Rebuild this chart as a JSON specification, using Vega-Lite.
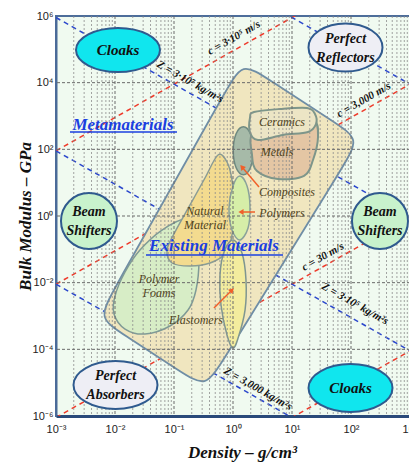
{
  "$schema": "https://vega.github.io/schema/vega-lite/v6.json",
  "width": 354,
  "height": 400,
  "autosize": {"type": "none"},
  "padding": {"left": 56, "top": 16, "right": 0, "bottom": 50},
  "background": "#ffffff",
  "view": {"fill": "#f0faf0", "stroke": "#4d6d9a", "strokeWidth": 2},
  "datasets": {
    "guides": [
      {"family": "c", "line": "c1", "i": 0, "density": 0.001, "modulus": 90},
      {"family": "c", "line": "c1", "i": 1, "density": 1000, "modulus": 90000000},
      {"family": "c", "line": "c2", "i": 0, "density": 0.001, "modulus": 0.009},
      {"family": "c", "line": "c2", "i": 1, "density": 1000, "modulus": 9000},
      {"family": "c", "line": "c3", "i": 0, "density": 0.001, "modulus": 9e-7},
      {"family": "c", "line": "c3", "i": 1, "density": 1000, "modulus": 0.9},
      {"family": "c", "line": "c4", "i": 0, "density": 0.001, "modulus": 9e-11},
      {"family": "c", "line": "c4", "i": 1, "density": 1000, "modulus": 9e-5},
      {"family": "Z", "line": "Z1", "i": 0, "density": 0.001, "modulus": 9e9},
      {"family": "Z", "line": "Z1", "i": 1, "density": 1000, "modulus": 9000},
      {"family": "Z", "line": "Z2", "i": 0, "density": 0.001, "modulus": 900000},
      {"family": "Z", "line": "Z2", "i": 1, "density": 1000, "modulus": 0.9},
      {"family": "Z", "line": "Z3", "i": 0, "density": 0.001, "modulus": 90},
      {"family": "Z", "line": "Z3", "i": 1, "density": 1000, "modulus": 9e-5},
      {"family": "Z", "line": "Z4", "i": 0, "density": 0.001, "modulus": 0.009},
      {"family": "Z", "line": "Z4", "i": 1, "density": 1000, "modulus": 9e-9}
    ],
    "regions": [
      {"shape": "Existing", "i": 0, "density": 0.8, "modulus": 6820},
      {"shape": "Existing", "i": 1, "density": 1.42, "modulus": 41700},
      {"shape": "Existing", "i": 2, "density": 3.78, "modulus": 13400},
      {"shape": "Existing", "i": 3, "density": 53.4, "modulus": 634},
      {"shape": "Existing", "i": 4, "density": 142, "modulus": 204},
      {"shape": "Existing", "i": 5, "density": 76.7, "modulus": 35.1},
      {"shape": "Existing", "i": 6, "density": 0.646, "modulus": 4.03e-5},
      {"shape": "Existing", "i": 7, "density": 0.349, "modulus": 6.92e-6},
      {"shape": "Existing", "i": 8, "density": 0.13, "modulus": 2.13e-5},
      {"shape": "Existing", "i": 9, "density": 0.0138, "modulus": 2.83e-4},
      {"shape": "Existing", "i": 10, "density": 0.00515, "modulus": 8.71e-4},
      {"shape": "Existing", "i": 11, "density": 0.00914, "modulus": 0.00532},

      {"shape": "Foams", "i": 0, "density": 0.16, "modulus": 0.813},
      {"shape": "Foams", "i": 1, "density": 0.236, "modulus": 0.331},
      {"shape": "Foams", "i": 2, "density": 0.265, "modulus": 0.0479},
      {"shape": "Foams", "i": 3, "density": 0.236, "modulus": 0.00603},
      {"shape": "Foams", "i": 4, "density": 0.173, "modulus": 0.00151},
      {"shape": "Foams", "i": 5, "density": 0.0856, "modulus": 5.01e-4},
      {"shape": "Foams", "i": 6, "density": 0.0323, "modulus": 2.88e-4},
      {"shape": "Foams", "i": 7, "density": 0.0148, "modulus": 4.07e-4},
      {"shape": "Foams", "i": 8, "density": 0.00962, "modulus": 0.00115},
      {"shape": "Foams", "i": 9, "density": 0.01, "modulus": 0.00398},
      {"shape": "Foams", "i": 10, "density": 0.0148, "modulus": 0.0209},
      {"shape": "Foams", "i": 11, "density": 0.0265, "modulus": 0.0955},
      {"shape": "Foams", "i": 12, "density": 0.0626, "modulus": 0.38},

      {"shape": "Natural", "i": 0, "density": 0.557, "modulus": 67.6},
      {"shape": "Natural", "i": 1, "density": 0.791, "modulus": 41.7},
      {"shape": "Natural", "i": 2, "density": 0.962, "modulus": 12.0},
      {"shape": "Natural", "i": 3, "density": 1.04, "modulus": 1.86},
      {"shape": "Natural", "i": 4, "density": 0.962, "modulus": 0.269},
      {"shape": "Natural", "i": 5, "density": 0.761, "modulus": 0.0776},
      {"shape": "Natural", "i": 6, "density": 0.408, "modulus": 0.0389},
      {"shape": "Natural", "i": 7, "density": 0.187, "modulus": 0.0316},
      {"shape": "Natural", "i": 8, "density": 0.0925, "modulus": 0.0389},
      {"shape": "Natural", "i": 9, "density": 0.0761, "modulus": 0.0955},
      {"shape": "Natural", "i": 10, "density": 0.104, "modulus": 0.331},
      {"shape": "Natural", "i": 11, "density": 0.187, "modulus": 2.14},
      {"shape": "Natural", "i": 12, "density": 0.335, "modulus": 13.8},

      {"shape": "Elastomers", "i": 0, "density": 1.0, "modulus": 0.191},
      {"shape": "Elastomers", "i": 1, "density": 1.42, "modulus": 0.0776},
      {"shape": "Elastomers", "i": 2, "density": 1.66, "modulus": 0.012},
      {"shape": "Elastomers", "i": 3, "density": 1.6, "modulus": 0.00151},
      {"shape": "Elastomers", "i": 4, "density": 1.22, "modulus": 2.19e-4},
      {"shape": "Elastomers", "i": 5, "density": 1.0, "modulus": 1.1e-4},
      {"shape": "Elastomers", "i": 6, "density": 0.791, "modulus": 2.69e-4},
      {"shape": "Elastomers", "i": 7, "density": 0.626, "modulus": 0.00214},
      {"shape": "Elastomers", "i": 8, "density": 0.602, "modulus": 0.017},
      {"shape": "Elastomers", "i": 9, "density": 0.704, "modulus": 0.0832},

      {"shape": "Polymers", "i": 0, "density": 1.31, "modulus": 15.8},
      {"shape": "Polymers", "i": 1, "density": 1.73, "modulus": 7.94},
      {"shape": "Polymers", "i": 2, "density": 1.94, "modulus": 2.0},
      {"shape": "Polymers", "i": 3, "density": 1.8, "modulus": 0.437},
      {"shape": "Polymers", "i": 4, "density": 1.31, "modulus": 0.191},
      {"shape": "Polymers", "i": 5, "density": 0.962, "modulus": 0.38},
      {"shape": "Polymers", "i": 6, "density": 0.855, "modulus": 1.74},
      {"shape": "Polymers", "i": 7, "density": 1.0, "modulus": 7.94},

      {"shape": "Composites", "i": 0, "density": 1.5, "modulus": 474},
      {"shape": "Composites", "i": 1, "density": 1.97, "modulus": 292},
      {"shape": "Composites", "i": 2, "density": 2.21, "modulus": 90.4},
      {"shape": "Composites", "i": 3, "density": 1.97, "modulus": 27.9},
      {"shape": "Composites", "i": 4, "density": 1.5, "modulus": 17.2},
      {"shape": "Composites", "i": 5, "density": 1.13, "modulus": 27.9},
      {"shape": "Composites", "i": 6, "density": 1.01, "modulus": 90.4},
      {"shape": "Composites", "i": 7, "density": 1.13, "modulus": 292},

      {"shape": "Metals", "i": 0, "density": 2.27, "modulus": 331},
      {"shape": "Metals", "i": 1, "density": 9.25, "modulus": 501},
      {"shape": "Metals", "i": 2, "density": 23.6, "modulus": 708},
      {"shape": "Metals", "i": 3, "density": 27.6, "modulus": 234},
      {"shape": "Metals", "i": 4, "density": 22.7, "modulus": 47.9},
      {"shape": "Metals", "i": 5, "density": 16.0, "modulus": 15.9},
      {"shape": "Metals", "i": 6, "density": 5.79, "modulus": 12.9},
      {"shape": "Metals", "i": 7, "density": 2.55, "modulus": 22.4},
      {"shape": "Metals", "i": 8, "density": 2.1, "modulus": 67.6},

      {"shape": "Ceramics", "i": 0, "density": 2.27, "modulus": 1318},
      {"shape": "Ceramics", "i": 1, "density": 6.26, "modulus": 1622},
      {"shape": "Ceramics", "i": 2, "density": 18.0, "modulus": 1738},
      {"shape": "Ceramics", "i": 3, "density": 24.5, "modulus": 1148},
      {"shape": "Ceramics", "i": 4, "density": 25.5, "modulus": 575},
      {"shape": "Ceramics", "i": 5, "density": 18.7, "modulus": 331},
      {"shape": "Ceramics", "i": 6, "density": 7.04, "modulus": 269},
      {"shape": "Ceramics", "i": 7, "density": 2.65, "modulus": 190},
      {"shape": "Ceramics", "i": 8, "density": 1.94, "modulus": 331},
      {"shape": "Ceramics", "i": 9, "density": 1.94, "modulus": 871}
    ],
    "minorGrid": [
      {"density": 0.002}, {"density": 0.003}, {"density": 0.004}, {"density": 0.005}, {"density": 0.006}, {"density": 0.007}, {"density": 0.008}, {"density": 0.009},
      {"density": 0.02}, {"density": 0.03}, {"density": 0.04}, {"density": 0.05}, {"density": 0.06}, {"density": 0.07}, {"density": 0.08}, {"density": 0.09},
      {"density": 0.2}, {"density": 0.3}, {"density": 0.4}, {"density": 0.5}, {"density": 0.6}, {"density": 0.7}, {"density": 0.8}, {"density": 0.9},
      {"density": 2}, {"density": 3}, {"density": 4}, {"density": 5}, {"density": 6}, {"density": 7}, {"density": 8}, {"density": 9},
      {"density": 20}, {"density": 30}, {"density": 40}, {"density": 50}, {"density": 60}, {"density": 70}, {"density": 80}, {"density": 90},
      {"density": 200}, {"density": 300}, {"density": 400}, {"density": 500}, {"density": 600}, {"density": 700}, {"density": 800}, {"density": 900}
    ],
    "majorGrid": [
      {"density": 0.01}, {"density": 0.1}, {"density": 1}, {"density": 10}, {"density": 100}
    ],
    "rowGrid": [
      {"modulus": 0.0001}, {"modulus": 0.01}, {"modulus": 1}, {"modulus": 100}, {"modulus": 10000}
    ],
    "arrows": [
      {"arrow": "composites", "i": 0, "density": 2.76, "modulus": 7.41},
      {"arrow": "composites", "i": 1, "density": 1.42, "modulus": 29.5},
      {"arrow": "polymers", "i": 0, "density": 2.36, "modulus": 1.318},
      {"arrow": "polymers", "i": 1, "density": 1.366, "modulus": 1.318},
      {"arrow": "elastomers", "i": 0, "density": 0.476, "modulus": 0.001738},
      {"arrow": "elastomers", "i": 1, "density": 0.962, "modulus": 0.006026}
    ],
    "badges": [
      {"name": "cloaks-a", "label": "Cloaks", "density": 0.01124, "modulus": 95500},
      {"name": "reflectors", "label": "Perfect\nReflectors", "density": 80.7, "modulus": 113500},
      {"name": "shifters", "label": "Beam\nShifters", "density": 0.003624, "modulus": 0.708},
      {"name": "shifters", "label": "Beam\nShifters", "density": 310, "modulus": 0.708},
      {"name": "absorbers", "label": "Perfect\nAbsorbers", "density": 0.0102, "modulus": 8.51e-6},
      {"name": "cloaks-b", "label": "Cloaks", "density": 98.1, "modulus": 6.92e-6}
    ],
    "tags": [
      {"name": "ceramics", "label": "Ceramics", "density": 6.77, "modulus": 661},
      {"name": "metals", "label": "Metals", "density": 5.57, "modulus": 83.2},
      {"name": "composites", "label": "Composites", "density": 8.23, "modulus": 5.25},
      {"name": "polymers", "label": "Polymers", "density": 6.77, "modulus": 1.23},
      {"name": "natural", "label": "Natural\nMaterial", "density": 0.335, "modulus": 0.871},
      {"name": "foams", "label": "Polymer\nFoams", "density": 0.0557, "modulus": 0.00794},
      {"name": "elastomers", "label": "Elastomers", "density": 0.236, "modulus": 0.000759}
    ],
    "guideTags": [
      {"family": "c", "label": "c = 3·10⁵ m/s", "density": 1.04, "modulus": 218800},
      {"family": "c", "label": "c = 3,000 m/s", "density": 166, "modulus": 3020},
      {"family": "c", "label": "c = 30 m/s", "density": 33.5, "modulus": 0.0589},
      {"family": "Z", "label": "Z = 3·10⁷ kg/m²s", "density": 0.187, "modulus": 10470},
      {"family": "Z", "label": "Z = 3·10⁵ kg/m²s", "density": 117, "modulus": 0.00229},
      {"family": "Z", "label": "Z = 3,000 kg/m²s", "density": 2.65, "modulus": 6.46e-6}
    ],
    "headings": [
      {"label": "Metamaterials", "density": 0.01366, "modulus": 537, "density2": 0.001727, "density3": 0.1124, "under": 331},
      {"label": "Existing Materials", "density": 0.4764, "modulus": 0.1259, "density2": 0.0335, "density3": 7.04, "under": 0.0676}
    ]
  },
  "layer": [
    {
      "data": {"name": "guides"},
      "mark": {"type": "line", "clip": true, "strokeWidth": 1.5, "strokeDash": [5, 4]},
      "encoding": {
        "x": {
          "field": "density", "type": "quantitative",
          "scale": {"type": "log", "domain": [0.001, 1000], "nice": false},
          "axis": {
            "values": [0.001, 0.01, 0.1, 1, 10, 100, 1000],
            "labelExpr": "'10' + (datum.value < 1 ? '⁻' : '') + ['⁰','¹','²','³','⁴','⁵','⁶'][abs(round(log(datum.value) / LN10))]",
            "grid": false, "ticks": false,
            "domainColor": "#2a4a7a", "domainWidth": 3,
            "labelFont": "Liberation Sans", "labelFontSize": 11, "labelColor": "#222222",
            "labelPadding": 7, "labelFlush": false, "labelOverlap": false, "labelBound": false,
            "title": "Density – g/cm³",
            "titleFont": "Liberation Serif", "titleFontSize": 17, "titleFontStyle": "italic", "titleFontWeight": "bold",
            "titleColor": "#111111", "titleX": 186, "titleY": 36, "titleAlign": "center", "titleBaseline": "middle"
          }
        },
        "y": {
          "field": "modulus", "type": "quantitative",
          "scale": {"type": "log", "domain": [1e-6, 1000000], "nice": false},
          "axis": {
            "values": [1e-6, 0.0001, 0.01, 1, 100, 10000, 1000000],
            "labelExpr": "'10' + (datum.value < 1 ? '⁻' : '') + ['⁰','¹','²','³','⁴','⁵','⁶'][abs(round(log(datum.value) / LN10))]",
            "grid": false, "ticks": false,
            "domainColor": "#4a6a98", "domainWidth": 2,
            "labelFont": "Liberation Sans", "labelFontSize": 11, "labelColor": "#222222",
            "labelPadding": 3, "labelFlush": false, "labelOverlap": false, "labelBound": false,
            "title": "Bulk Modulus – GPa",
            "titleFont": "Liberation Serif", "titleFontSize": 17, "titleFontStyle": "italic", "titleFontWeight": "bold",
            "titleColor": "#111111", "titleX": -31, "titleY": 200, "titleAngle": 270, "titleAlign": "center", "titleBaseline": "middle"
          }
        },
        "detail": {"field": "line"},
        "order": {"field": "i"},
        "color": {"field": "family", "type": "nominal", "scale": {"domain": ["c", "Z"], "range": ["#ee3b2b", "#2b47cc"]}, "legend": null}
      }
    },
    {
      "data": {"name": "regions"},
      "transform": [{"filter": "datum.shape == 'Existing'"}],
      "mark": {"type": "line", "interpolate": "basis-closed", "fill": "#f0e6bf", "stroke": "#6f8ea6", "strokeWidth": 1.8},
      "encoding": {
        "x": {"field": "density", "type": "quantitative", "scale": {"type": "log", "domain": [0.001, 1000], "nice": false}},
        "y": {"field": "modulus", "type": "quantitative", "scale": {"type": "log", "domain": [1e-6, 1000000], "nice": false}},
        "order": {"field": "i"}
      }
    },
    {
      "data": {"name": "regions"},
      "transform": [{"filter": "datum.shape == 'Foams'"}],
      "mark": {"type": "line", "interpolate": "cardinal-closed", "fill": "#d7edc6", "stroke": "#7f9b96", "strokeWidth": 1.5},
      "encoding": {
        "x": {"field": "density", "type": "quantitative", "scale": {"type": "log", "domain": [0.001, 1000], "nice": false}},
        "y": {"field": "modulus", "type": "quantitative", "scale": {"type": "log", "domain": [1e-6, 1000000], "nice": false}},
        "order": {"field": "i"}
      }
    },
    {
      "data": {"name": "regions"},
      "transform": [{"filter": "datum.shape == 'Natural'"}],
      "mark": {"type": "line", "interpolate": "cardinal-closed", "fill": "#f3db8f", "stroke": "#8a9c94", "strokeWidth": 1.5},
      "encoding": {
        "x": {"field": "density", "type": "quantitative", "scale": {"type": "log", "domain": [0.001, 1000], "nice": false}},
        "y": {"field": "modulus", "type": "quantitative", "scale": {"type": "log", "domain": [1e-6, 1000000], "nice": false}},
        "order": {"field": "i"}
      }
    },
    {
      "data": {"name": "regions"},
      "transform": [{"filter": "datum.shape == 'Elastomers'"}],
      "mark": {"type": "line", "interpolate": "cardinal-closed", "fill": "#f3ec9e", "stroke": "#7f9690", "strokeWidth": 1.5},
      "encoding": {
        "x": {"field": "density", "type": "quantitative", "scale": {"type": "log", "domain": [0.001, 1000], "nice": false}},
        "y": {"field": "modulus", "type": "quantitative", "scale": {"type": "log", "domain": [1e-6, 1000000], "nice": false}},
        "order": {"field": "i"}
      }
    },
    {
      "data": {"name": "regions"},
      "transform": [{"filter": "datum.shape == 'Polymers'"}],
      "mark": {"type": "line", "interpolate": "cardinal-closed", "fill": "#d6eea8", "stroke": "#8aa29a", "strokeWidth": 1.5},
      "encoding": {
        "x": {"field": "density", "type": "quantitative", "scale": {"type": "log", "domain": [0.001, 1000], "nice": false}},
        "y": {"field": "modulus", "type": "quantitative", "scale": {"type": "log", "domain": [1e-6, 1000000], "nice": false}},
        "order": {"field": "i"}
      }
    },
    {
      "data": {"name": "regions"},
      "transform": [{"filter": "datum.shape == 'Composites'"}],
      "mark": {"type": "line", "interpolate": "cardinal-closed", "fill": "#a6baa8", "stroke": "#6f8a80", "strokeWidth": 1.5},
      "encoding": {
        "x": {"field": "density", "type": "quantitative", "scale": {"type": "log", "domain": [0.001, 1000], "nice": false}},
        "y": {"field": "modulus", "type": "quantitative", "scale": {"type": "log", "domain": [1e-6, 1000000], "nice": false}},
        "order": {"field": "i"}
      }
    },
    {
      "data": {"name": "regions"},
      "transform": [{"filter": "datum.shape == 'Metals'"}],
      "mark": {"type": "line", "interpolate": "cardinal-closed", "fill": "#e4c6a4", "stroke": "#7e968a", "strokeWidth": 2},
      "encoding": {
        "x": {"field": "density", "type": "quantitative", "scale": {"type": "log", "domain": [0.001, 1000], "nice": false}},
        "y": {"field": "modulus", "type": "quantitative", "scale": {"type": "log", "domain": [1e-6, 1000000], "nice": false}},
        "order": {"field": "i"}
      }
    },
    {
      "data": {"name": "regions"},
      "transform": [{"filter": "datum.shape == 'Ceramics'"}],
      "mark": {"type": "line", "interpolate": "cardinal-closed", "fill": "#ece5c5", "stroke": "#7e968a", "strokeWidth": 2},
      "encoding": {
        "x": {"field": "density", "type": "quantitative", "scale": {"type": "log", "domain": [0.001, 1000], "nice": false}},
        "y": {"field": "modulus", "type": "quantitative", "scale": {"type": "log", "domain": [1e-6, 1000000], "nice": false}},
        "order": {"field": "i"}
      }
    },
    {
      "data": {"name": "minorGrid"},
      "mark": {"type": "rule", "color": "#8c8c8c", "strokeWidth": 0.8, "strokeDash": [2, 2]},
      "encoding": {
        "x": {"field": "density", "type": "quantitative", "scale": {"type": "log", "domain": [0.001, 1000], "nice": false}}
      }
    },
    {
      "data": {"name": "majorGrid"},
      "mark": {"type": "rule", "color": "#6a6a6a", "strokeWidth": 1, "strokeDash": [3, 2]},
      "encoding": {
        "x": {"field": "density", "type": "quantitative", "scale": {"type": "log", "domain": [0.001, 1000], "nice": false}}
      }
    },
    {
      "data": {"name": "rowGrid"},
      "mark": {"type": "rule", "color": "#6a6a6a", "strokeWidth": 1, "strokeDash": [3, 2]},
      "encoding": {
        "y": {"field": "modulus", "type": "quantitative", "scale": {"type": "log", "domain": [1e-6, 1000000], "nice": false}}
      }
    },
    {
      "data": {"name": "arrows"},
      "mark": {"type": "line", "color": "#f0602a", "strokeWidth": 1.5},
      "encoding": {
        "x": {"field": "density", "type": "quantitative", "scale": {"type": "log", "domain": [0.001, 1000], "nice": false}},
        "y": {"field": "modulus", "type": "quantitative", "scale": {"type": "log", "domain": [1e-6, 1000000], "nice": false}},
        "detail": {"field": "arrow"},
        "order": {"field": "i"}
      }
    },
    {
      "data": {"name": "arrows"},
      "transform": [{"filter": "datum.i == 1 && datum.arrow == 'composites'"}],
      "mark": {"type": "point", "shape": "triangle-up", "filled": true, "color": "#f0602a", "opacity": 1, "size": 36, "angle": 320},
      "encoding": {
        "x": {"field": "density", "type": "quantitative", "scale": {"type": "log", "domain": [0.001, 1000], "nice": false}},
        "y": {"field": "modulus", "type": "quantitative", "scale": {"type": "log", "domain": [1e-6, 1000000], "nice": false}}
      }
    },
    {
      "data": {"name": "arrows"},
      "transform": [{"filter": "datum.i == 1 && datum.arrow == 'polymers'"}],
      "mark": {"type": "point", "shape": "triangle-up", "filled": true, "color": "#f0602a", "opacity": 1, "size": 36, "angle": 270},
      "encoding": {
        "x": {"field": "density", "type": "quantitative", "scale": {"type": "log", "domain": [0.001, 1000], "nice": false}},
        "y": {"field": "modulus", "type": "quantitative", "scale": {"type": "log", "domain": [1e-6, 1000000], "nice": false}}
      }
    },
    {
      "data": {"name": "arrows"},
      "transform": [{"filter": "datum.i == 1 && datum.arrow == 'elastomers'"}],
      "mark": {"type": "point", "shape": "triangle-up", "filled": true, "color": "#f0602a", "opacity": 1, "size": 36, "angle": 45},
      "encoding": {
        "x": {"field": "density", "type": "quantitative", "scale": {"type": "log", "domain": [0.001, 1000], "nice": false}},
        "y": {"field": "modulus", "type": "quantitative", "scale": {"type": "log", "domain": [1e-6, 1000000], "nice": false}}
      }
    },
    {
      "data": {"name": "badges"},
      "transform": [{"filter": "datum.name == 'cloaks-a'"}],
      "mark": {"type": "point", "shape": "M 1 0 C 1 0.289 0.552 0.524 0 0.524 C -0.552 0.524 -1 0.289 -1 0 C -1 -0.289 -0.552 -0.524 0 -0.524 C 0.552 -0.524 1 -0.289 1 0 Z", "size": 7056, "filled": true, "fill": "#10e6ee", "stroke": "#2f5a8e", "strokeWidth": 2, "opacity": 1},
      "encoding": {
        "x": {"field": "density", "type": "quantitative", "scale": {"type": "log", "domain": [0.001, 1000], "nice": false}},
        "y": {"field": "modulus", "type": "quantitative", "scale": {"type": "log", "domain": [1e-6, 1000000], "nice": false}}
      }
    },
    {
      "data": {"name": "badges"},
      "transform": [{"filter": "datum.name == 'reflectors'"}],
      "mark": {"type": "point", "shape": "M 1 0 C 1 0.358 0.552 0.649 0 0.649 C -0.552 0.649 -1 0.358 -1 0 C -1 -0.358 -0.552 -0.649 0 -0.649 C 0.552 -0.649 1 -0.358 1 0 Z", "size": 5476, "filled": true, "fill": "#eeeef5", "stroke": "#2f5a8e", "strokeWidth": 2, "opacity": 1},
      "encoding": {
        "x": {"field": "density", "type": "quantitative", "scale": {"type": "log", "domain": [0.001, 1000], "nice": false}},
        "y": {"field": "modulus", "type": "quantitative", "scale": {"type": "log", "domain": [1e-6, 1000000], "nice": false}}
      }
    },
    {
      "data": {"name": "badges"},
      "transform": [{"filter": "datum.name == 'shifters'"}],
      "mark": {"type": "point", "shape": "circle", "size": 3136, "filled": true, "fill": "#c8f2cc", "stroke": "#2f5a8e", "strokeWidth": 2, "opacity": 1},
      "encoding": {
        "x": {"field": "density", "type": "quantitative", "scale": {"type": "log", "domain": [0.001, 1000], "nice": false}},
        "y": {"field": "modulus", "type": "quantitative", "scale": {"type": "log", "domain": [1e-6, 1000000], "nice": false}}
      }
    },
    {
      "data": {"name": "badges"},
      "transform": [{"filter": "datum.name == 'absorbers'"}],
      "mark": {"type": "point", "shape": "M 1 0 C 1 0.316 0.552 0.571 0 0.571 C -0.552 0.571 -1 0.316 -1 0 C -1 -0.316 -0.552 -0.571 0 -0.571 C 0.552 -0.571 1 -0.316 1 0 Z", "size": 7056, "filled": true, "fill": "#eeeef5", "stroke": "#2f5a8e", "strokeWidth": 2, "opacity": 1},
      "encoding": {
        "x": {"field": "density", "type": "quantitative", "scale": {"type": "log", "domain": [0.001, 1000], "nice": false}},
        "y": {"field": "modulus", "type": "quantitative", "scale": {"type": "log", "domain": [1e-6, 1000000], "nice": false}}
      }
    },
    {
      "data": {"name": "badges"},
      "transform": [{"filter": "datum.name == 'cloaks-b'"}],
      "mark": {"type": "point", "shape": "M 1 0 C 1 0.316 0.552 0.571 0 0.571 C -0.552 0.571 -1 0.316 -1 0 C -1 -0.316 -0.552 -0.571 0 -0.571 C 0.552 -0.571 1 -0.316 1 0 Z", "size": 7056, "filled": true, "fill": "#10e6ee", "stroke": "#2f5a8e", "strokeWidth": 2, "opacity": 1},
      "encoding": {
        "x": {"field": "density", "type": "quantitative", "scale": {"type": "log", "domain": [0.001, 1000], "nice": false}},
        "y": {"field": "modulus", "type": "quantitative", "scale": {"type": "log", "domain": [1e-6, 1000000], "nice": false}}
      }
    },
    {
      "data": {"name": "badges"},
      "transform": [{"filter": "datum.name == 'cloaks-a' || datum.name == 'cloaks-b'"}],
      "mark": {"type": "text", "font": "Liberation Serif", "fontSize": 15, "fontStyle": "italic", "fontWeight": "bold", "color": "#111111", "align": "center", "baseline": "middle"},
      "encoding": {
        "x": {"field": "density", "type": "quantitative", "scale": {"type": "log", "domain": [0.001, 1000], "nice": false}},
        "y": {"field": "modulus", "type": "quantitative", "scale": {"type": "log", "domain": [1e-6, 1000000], "nice": false}},
        "text": {"field": "label"}
      }
    },
    {
      "data": {"name": "badges"},
      "transform": [{"filter": "datum.name != 'cloaks-a' && datum.name != 'cloaks-b'"}],
      "mark": {"type": "text", "font": "Liberation Serif", "fontSize": 14, "fontStyle": "italic", "fontWeight": "bold", "color": "#111111", "align": "center", "baseline": "middle", "lineBreak": "\n", "lineHeight": 19, "dy": -9},
      "encoding": {
        "x": {"field": "density", "type": "quantitative", "scale": {"type": "log", "domain": [0.001, 1000], "nice": false}},
        "y": {"field": "modulus", "type": "quantitative", "scale": {"type": "log", "domain": [1e-6, 1000000], "nice": false}},
        "text": {"field": "label"}
      }
    },
    {
      "data": {"name": "tags"},
      "transform": [{"filter": "datum.name != 'natural' && datum.name != 'foams'"}],
      "mark": {"type": "text", "font": "Liberation Serif", "fontSize": 12, "fontStyle": "italic", "color": "#4f4320", "align": "center", "baseline": "middle"},
      "encoding": {
        "x": {"field": "density", "type": "quantitative", "scale": {"type": "log", "domain": [0.001, 1000], "nice": false}},
        "y": {"field": "modulus", "type": "quantitative", "scale": {"type": "log", "domain": [1e-6, 1000000], "nice": false}},
        "text": {"field": "label"}
      }
    },
    {
      "data": {"name": "tags"},
      "transform": [{"filter": "datum.name == 'natural' || datum.name == 'foams'"}],
      "mark": {"type": "text", "font": "Liberation Serif", "fontSize": 12, "fontStyle": "italic", "color": "#4f4320", "align": "center", "baseline": "middle", "lineBreak": "\n", "lineHeight": 14, "dy": -7},
      "encoding": {
        "x": {"field": "density", "type": "quantitative", "scale": {"type": "log", "domain": [0.001, 1000], "nice": false}},
        "y": {"field": "modulus", "type": "quantitative", "scale": {"type": "log", "domain": [1e-6, 1000000], "nice": false}},
        "text": {"field": "label"}
      }
    },
    {
      "data": {"name": "guideTags"},
      "transform": [{"filter": "datum.family == 'c'"}],
      "mark": {"type": "text", "font": "Liberation Serif", "fontSize": 11, "fontStyle": "italic", "fontWeight": "bold", "color": "#111111", "align": "center", "baseline": "middle", "angle": 330.5},
      "encoding": {
        "x": {"field": "density", "type": "quantitative", "scale": {"type": "log", "domain": [0.001, 1000], "nice": false}},
        "y": {"field": "modulus", "type": "quantitative", "scale": {"type": "log", "domain": [1e-6, 1000000], "nice": false}},
        "text": {"field": "label"}
      }
    },
    {
      "data": {"name": "guideTags"},
      "transform": [{"filter": "datum.family == 'Z'"}],
      "mark": {"type": "text", "font": "Liberation Serif", "fontSize": 11, "fontStyle": "italic", "fontWeight": "bold", "color": "#111111", "align": "center", "baseline": "middle", "angle": 29.5},
      "encoding": {
        "x": {"field": "density", "type": "quantitative", "scale": {"type": "log", "domain": [0.001, 1000], "nice": false}},
        "y": {"field": "modulus", "type": "quantitative", "scale": {"type": "log", "domain": [1e-6, 1000000], "nice": false}},
        "text": {"field": "label"}
      }
    },
    {
      "data": {"name": "headings"},
      "mark": {"type": "text", "font": "Liberation Serif", "fontSize": 17, "fontStyle": "italic", "fontWeight": "bold", "color": "#1b3fe0", "align": "center", "baseline": "middle"},
      "encoding": {
        "x": {"field": "density", "type": "quantitative", "scale": {"type": "log", "domain": [0.001, 1000], "nice": false}},
        "y": {"field": "modulus", "type": "quantitative", "scale": {"type": "log", "domain": [1e-6, 1000000], "nice": false}},
        "text": {"field": "label"}
      }
    },
    {
      "data": {"name": "headings"},
      "mark": {"type": "rule", "color": "#1b3fe0", "strokeWidth": 1.5},
      "encoding": {
        "x": {"field": "density2", "type": "quantitative", "scale": {"type": "log", "domain": [0.001, 1000], "nice": false}},
        "x2": {"field": "density3"},
        "y": {"field": "under", "type": "quantitative", "scale": {"type": "log", "domain": [1e-6, 1000000], "nice": false}}
      }
    }
  ]
}
